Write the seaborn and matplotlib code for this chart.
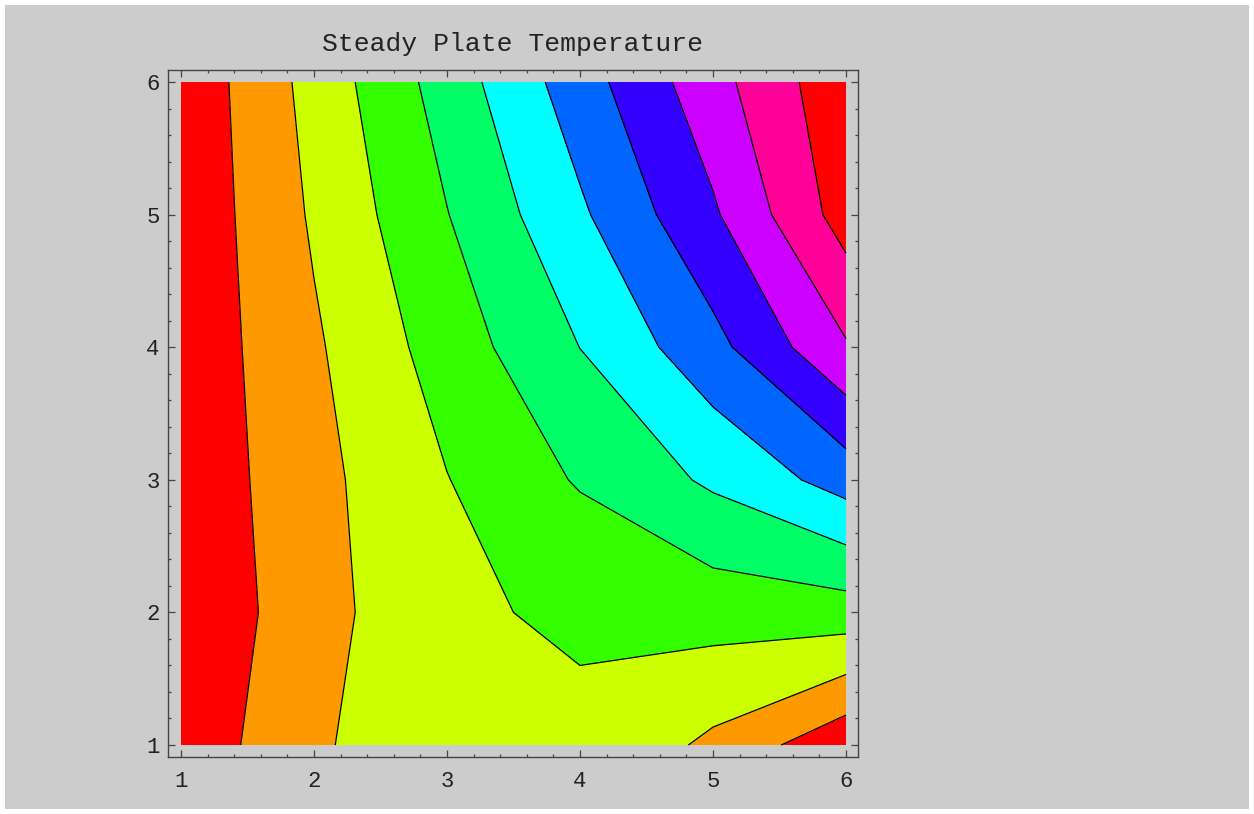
import numpy as np
import matplotlib
matplotlib.use("Agg")
import matplotlib.pyplot as plt
from matplotlib.patches import Rectangle
from matplotlib.ticker import MultipleLocator
import seaborn as sns

# grid coordinates
x_vals = [1, 2, 3, 4, 5, 6]
y_vals = [1, 2, 3, 4, 5, 6]

# temperatures, one list per row (y = 1 ... 6), columns x = 1 ... 6
temp_y1 = [0.25, 1.92, 2.42, 2.97, 1.78, 0.26]
temp_y2 = [0.22, 1.56, 2.98, 3.02, 3.41, 3.53]
temp_y3 = [0.25, 1.70, 2.97, 4.10, 5.17, 6.42]
temp_y4 = [0.27, 1.86, 3.46, 5.01, 6.68, 8.90]
temp_y5 = [0.23, 2.13, 3.97, 5.84, 7.86, 10.45]
temp_y6 = [0.24, 2.35, 4.45, 6.55, 8.64, 10.74]

contour_levels = [0, 1, 2, 3, 4, 5, 6, 7, 8, 9, 10, 11]
tick_vals = [1, 2, 3, 4, 5, 6]

sns.set_style("ticks")
plt.rcParams["font.family"] = ["Liberation Mono", "DejaVu Sans"]

Z = np.array([temp_y1, temp_y2, temp_y3, temp_y4, temp_y5, temp_y6])
X, Y = np.meshgrid(x_vals, y_vals)

W, H = 1254, 814
fig = plt.figure(figsize=(W / 100, H / 100), dpi=100, facecolor="white")
fig.patches.append(Rectangle((5 / W, 5 / H), 1 - 10 / W, 1 - 10 / H,
                             transform=fig.transFigure, facecolor="#cccccc",
                             edgecolor="none", zorder=-10))

ax = fig.add_axes([168 / W, 57 / H, 690 / W, 687 / H])
ax.set_facecolor("#cccccc")

# Hue colours 0, 0.1, ..., 0.9 and 1.0 (red again)
palette = list(sns.hls_palette(10, h=0, l=0.5, s=1)) + [(1.0, 0.0, 0.0)]

ax.contourf(X, Y, Z, levels=contour_levels, colors=palette)
ax.contour(X, Y, Z, levels=contour_levels[1:-1], colors="black", linewidths=0.9)

ax.set_xlim(1 - 13 / 133, 6 + 12 / 133)
ax.set_ylim(1 - 12 / 132.6, 6 + 12 / 132.6)
ax.set_xticks(tick_vals)
ax.set_yticks(tick_vals)
ax.xaxis.set_minor_locator(MultipleLocator(0.2))
ax.yaxis.set_minor_locator(MultipleLocator(0.2))

for sp in ax.spines.values():
    sp.set_color("#444444")
    sp.set_linewidth(1.0)

ax.tick_params(which="both", direction="in", top=True, right=True,
               color="#444444", width=0.9, labelcolor="#222222", labelsize=16)
ax.tick_params(which="major", length=5)
ax.tick_params(which="minor", length=2.5)
ax.tick_params(axis="x", which="major", pad=10)
ax.tick_params(axis="y", which="major", pad=6)

ax.set_title("Steady Plate Temperature", fontsize=19, pad=14, color="#222222")

fig.savefig("out.png", dpi=100, facecolor=fig.get_facecolor())
